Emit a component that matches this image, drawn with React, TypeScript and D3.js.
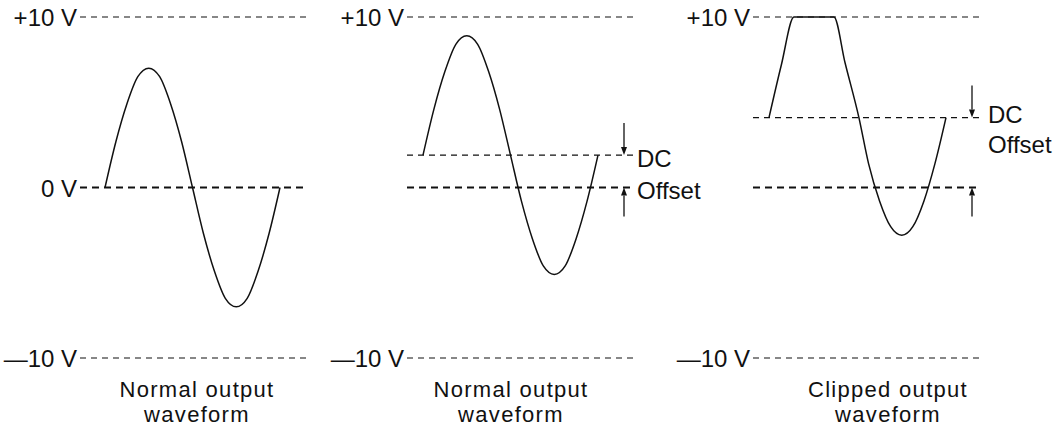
import * as d3 from 'd3';

// voltage levels drawn as dashed reference lines
const levels = [10, 0, -10];
const levelLabels = ['+10 V', '0 V', '—10 V'];

// waveform samples (phase of one cycle, volts)
const phase = [0, 0.0625, 0.125, 0.1875, 0.25, 0.3125, 0.375, 0.4375, 0.5, 0.5625, 0.625, 0.6875, 0.75, 0.8125, 0.875, 0.9375, 1];
const normalVolts = [0, 2.7, 4.9, 6.5, 7, 6.5, 4.9, 2.7, 0, -2.7, -4.9, -6.5, -7, -6.5, -4.9, -2.7, 0];
const offsetVolts = [1.9, 4.6, 6.8, 8.4, 8.9, 8.4, 6.8, 4.6, 1.9, -0.8, -3.0, -4.6, -5.1, -4.6, -3.0, -0.8, 1.9];
const clippedPhase = [0, 0.07, 0.141, 0.367, 0.43, 0.508, 0.5625, 0.625, 0.6875, 0.75, 0.8125, 0.875, 0.9375, 1];
const clippedVolts = [4.1, 7.2, 10, 10, 7.3, 4.1, 1.4, -0.8, -2.3, -2.8, -2.3, -0.8, 1.4, 4.1];

const dcOffsets = [0, 1.9, 4.1];
const titles = [
  ['Normal output', 'waveform'],
  ['Normal output', 'waveform'],
  ['Clipped output', 'waveform'],
];

const W = 1060;
const H = 427;
const FONT = '"Liberation Sans", Arial, Helvetica, sans-serif';

// layout of the three panels
const panels = [
  { line: [80, 307], wave: [105, 280], titleX: 197, arrowX: 0, textX: 0, dcDy: 0, offDy: 0 },
  { line: [407, 633], wave: [423, 598], titleX: 511, arrowX: 624, textX: 637, dcDy: 12, offDy: 44 },
  { line: [753, 980], wave: [769, 946], titleX: 888, arrowX: 972, textX: 988, dcDy: 5, offDy: 35 },
];

const y = d3.scaleLinear().domain([-10, 10]).range([358, 17]);

function Arrow({ x, from, to }: { x: number; from: number; to: number }) {
  const dir = to > from ? 1 : -1;
  const head = 8;
  return (
    <g>
      <line x1={x} x2={x} y1={from} y2={to - dir * head} stroke="#111" strokeWidth={1.3} />
      <path
        d={`M${x - 3},${to - dir * head} L${x + 3},${to - dir * head} L${x},${to} Z`}
        fill="#111"
      />
    </g>
  );
}

export default function App() {
  const series = [
    phase.map((p, i) => [p, normalVolts[i]]),
    phase.map((p, i) => [p, offsetVolts[i]]),
    clippedPhase.map((p, i) => [p, clippedVolts[i]]),
  ];

  return (
    <svg
      width={W}
      height={H}
      style={{ position: 'absolute', left: 0, top: 0, background: '#fff' }}
      fontFamily={FONT}
    >
      {panels.map((pn, k) => {
        const x = d3.scaleLinear().domain([0, 1]).range(pn.wave);
        const line = d3
          .line<number[]>()
          .x((d) => x(d[0]))
          .y((d) => y(d[1]))
          .curve(d3.curveMonotoneX);
        const dc = dcOffsets[k];
        return (
          <g key={k}>
            {levels.map((lv, i) => {
              if (lv === 0 && k > 0) {
                return (
                  <line key={i} x1={pn.line[0]} x2={pn.line[1]} y1={y(0)} y2={y(0)}
                    stroke="#111" strokeWidth={2} strokeDasharray="7,5" />
                );
              }
              return (
                <g key={i}>
                  <line x1={pn.line[0]} x2={pn.line[1]} y1={y(lv)} y2={y(lv)}
                    stroke="#111" strokeWidth={lv === 0 ? 2 : 1.2}
                    strokeDasharray={lv === 0 ? '7,5' : '6,5'} />
                  <text x={pn.line[0] - 3} y={y(lv) + 9} textAnchor="end" fontSize={24} fill="#111">
                    {levelLabels[i]}
                  </text>
                </g>
              );
            })}
            {dc !== 0 && (
              <g>
                <line x1={pn.line[0]} x2={pn.line[1]} y1={y(dc)} y2={y(dc)}
                  stroke="#111" strokeWidth={1.4} strokeDasharray="6,5" />
                <Arrow x={pn.arrowX} from={y(dc) - 32} to={y(dc)} />
                <Arrow x={pn.arrowX} from={y(0) + 29} to={y(0)} />
                <text x={pn.textX} y={y(dc) + pn.dcDy} fontSize={24} fill="#111">DC</text>
                <text x={pn.textX} y={y(dc) + pn.offDy} fontSize={24} fill="#111">Offset</text>
              </g>
            )}
            <path d={line(series[k]) || ''} fill="none" stroke="#111" strokeWidth={1.5} />
            <text x={pn.titleX} y={397} textAnchor="middle" fontSize={22} letterSpacing={1.3} fill="#111">
              {titles[k][0]}
            </text>
            <text x={pn.titleX} y={422} textAnchor="middle" fontSize={22} letterSpacing={1.3} fill="#111">
              {titles[k][1]}
            </text>
          </g>
        );
      })}
    </svg>
  );
}
